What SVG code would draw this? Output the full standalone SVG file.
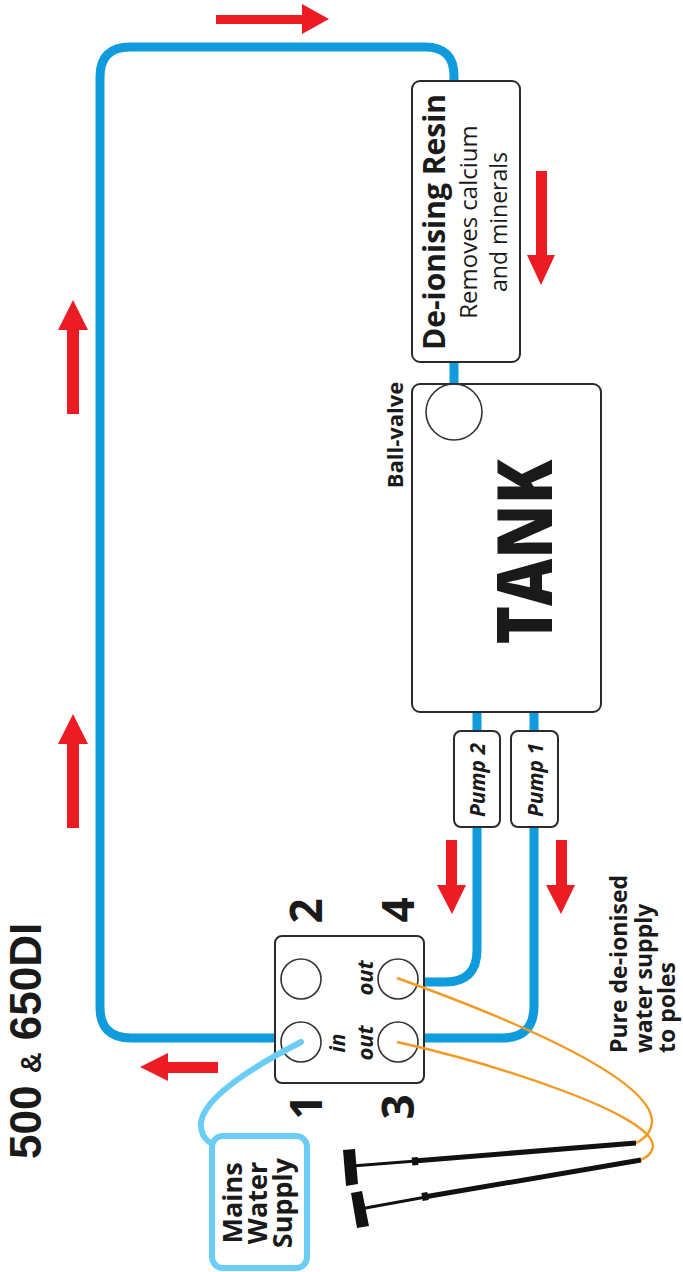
<svg xmlns="http://www.w3.org/2000/svg" width="683" height="1272" viewBox="0 0 683 1272">
<style>
text{font-family:"Open Sans","Noto Sans","Liberation Sans",sans-serif;fill:#1a1a1a;text-anchor:middle}
.b{font-weight:700}
.s{text-anchor:start}
.box{fill:#fff;stroke:#2b2b2b;stroke-width:2}
.port{fill:none;stroke:#333;stroke-width:1.6}
.pipe{fill:none;stroke:#0f9bdc;stroke-width:9}
.or{fill:none;stroke:#f39a24;stroke-width:2.4}
.ar{fill:#ec1c24}
.pole{fill:none;stroke:#111}
</style>
<g id="connectors">
<path class="pipe" d="M454 84V76Q454 47 425 47H130Q100 47 100 77V1007Q100 1038 131 1038H280"/>
<path class="pipe" d="M454 360V390"/>
<path class="pipe" d="M477 708V950Q477 982 445 982H420"/>
<path class="pipe" d="M534 708V1006Q534 1038 502 1038H420"/>
</g>
<g id="resin"><rect class="box" x="412" y="81" width="108" height="281" rx="8"/>
<text class="b" transform="translate(445 222) rotate(-90)" font-size="30">De-ionising Resin</text>
<text transform="translate(477 222) rotate(-90)" font-size="24">Removes calcium</text>
<text transform="translate(507 222) rotate(-90)" font-size="23">and minerals</text></g>
<g id="tank"><rect class="box" x="412" y="384" width="189" height="328" rx="8"/>
<circle class="port" cx="454" cy="412" r="28"/>
<text font-weight="800" transform="translate(552 552) rotate(-90)" font-size="77" textLength="185" lengthAdjust="spacingAndGlyphs">TANK</text></g>
<text id="ball-valve" class="b" transform="translate(403 435) rotate(-90)" font-size="22">Ball-valve</text>
<g id="pump2"><rect class="box" x="454" y="731" width="46" height="96" rx="7"/>
<text class="b" font-style="italic" transform="translate(485 780) rotate(-90)" font-size="21">Pump 2</text></g>
<g id="pump1"><rect class="box" x="511" y="731" width="47" height="96" rx="7"/>
<text class="b" font-style="italic" transform="translate(543 780) rotate(-90)" font-size="21">Pump 1</text></g>
<g id="manifold"><rect class="box" x="275" y="936" width="149" height="147" rx="7"/>
<circle class="port" cx="301" cy="979" r="20"/><circle class="port" cx="398" cy="979" r="20"/>
<circle class="port" cx="301" cy="1042" r="20"/><circle class="port" cx="398" cy="1042" r="20"/>
<text class="b" font-style="italic" transform="translate(345 1043) rotate(-90)" font-size="21">in</text>
<text class="b" font-style="italic" transform="translate(373 1043) rotate(-90)" font-size="22">out</text>
<text class="b" font-style="italic" transform="translate(373 978) rotate(-90)" font-size="22">out</text>
<text class="b" transform="translate(322 911) rotate(-90)" font-size="44">2</text>
<text class="b" transform="translate(414 910) rotate(-90)" font-size="44">4</text>
<text class="b" transform="translate(322 1107) rotate(-90)" font-size="44">1</text>
<text class="b" transform="translate(414 1107) rotate(-90)" font-size="44">3</text></g>
<g id="mains"><rect x="212" y="1136" width="95" height="132" rx="11" fill="#fff" stroke="#6ccdf4" stroke-width="6"/>
<text class="b" transform="translate(242 1203) rotate(-90)" font-size="27">Mains</text>
<text class="b" transform="translate(267 1203) rotate(-90)" font-size="27">Water</text>
<text class="b" transform="translate(292 1203) rotate(-90)" font-size="27">Supply</text></g>
<path id="mains-pipe" d="M301 1042C262 1062 205 1095 201 1122Q200 1135 209 1142" fill="none" stroke="#6ccdf4" stroke-width="6" stroke-linecap="round"/>
<g id="orange"><path class="or" d="M397 978C500 1015 648 1075 652 1120Q652 1135 636 1143"/>
<path class="or" d="M397 1042C500 1065 653 1115 653 1146Q652 1155 641 1160"/></g>
<g id="poles">
<path class="pole" stroke-width="5" d="M636 1143L414 1161"/><path class="pole" stroke-width="3" d="M416 1161L352 1166"/>
<path class="pole" stroke-width="5" d="M641 1160L424 1197"/><path class="pole" stroke-width="3" d="M426 1197L360 1209"/>
<path class="pole" stroke-width="8" d="M418 1161L412 1161.5M428 1196L422 1197"/>
<path d="M343 1150L355 1149L358 1184L346 1186Z" fill="#111"/><path d="M351 1193L362 1191L369 1226L357 1228Z" fill="#111"/>
</g>
<g id="arrows">
<path class="ar" d="M216 15H302V4L329 19L302 34V24H216Z"/>
<path class="ar" d="M536 171H547V255H555L541 285L527 255H536Z"/>
<path class="ar" d="M67 414V330H58L73 300L88 330H79V414Z"/>
<path class="ar" d="M67 828V744H58L73 714L88 744H79V828Z"/>
<path class="ar" d="M446 840H457V885H466L452 914L437 885H446Z"/>
<path class="ar" d="M556 840H567V885H575L561 914L546 885H556Z"/>
<path class="ar" d="M218 1062V1073H168V1081L140 1067L168 1053V1062Z"/>
</g>
<g id="labels">
<text class="b s" style="font-family:'Liberation Sans',Arial,sans-serif" transform="translate(41 1159) rotate(-90)" font-size="44">500 <tspan font-size="29">&amp;</tspan> 650DI</text>
<text class="b s" transform="translate(627 1053) rotate(-90)" font-size="23">Pure de-ionised</text>
<text class="b s" transform="translate(652 1053) rotate(-90)" font-size="23">water supply</text>
<text class="b s" transform="translate(675 1053) rotate(-90)" font-size="23">to poles</text>
</g>
</svg>
